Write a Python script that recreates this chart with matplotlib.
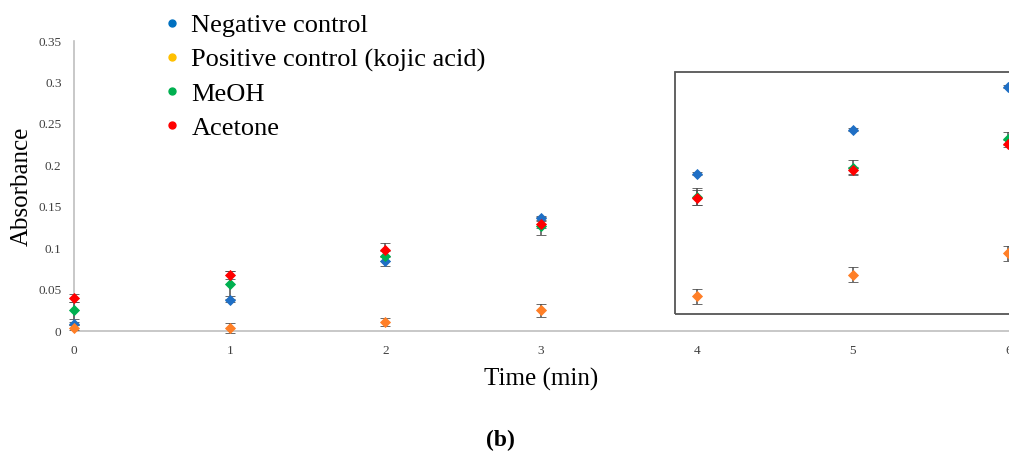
import matplotlib
matplotlib.use("Agg")
import matplotlib.pyplot as plt
from matplotlib.lines import Line2D
from matplotlib.patches import Rectangle

time_min = [0, 1, 2, 3, 4, 5, 6]
neg_control = [0.009, 0.037, 0.084, 0.136, 0.190, 0.243, 0.295]
neg_err = [0.002, 0.002, 0.005, 0.003, 0.002, 0.002, 0.002]
pos_control = [0.004, 0.004, 0.011, 0.025, 0.042, 0.068, 0.094]
pos_err = [0.003, 0.006, 0.005, 0.008, 0.009, 0.009, 0.009]
meoh = [0.025, 0.057, 0.091, 0.127, 0.162, 0.197, 0.232]
meoh_err = [0.010, 0.015, 0.006, 0.011, 0.010, 0.009, 0.008]
acetone = [0.040, 0.068, 0.098, 0.129, 0.161, 0.194, 0.226]
acetone_err = [0.005, 0.005, 0.008, 0.005, 0.009, 0.004, 0.004]

series_names = ["Negative control", "Positive control (kojic acid)", "MeOH", "Acetone"]
legend_colors = ["#0070C0", "#FFC000", "#00B050", "#FF0000"]
point_colors = ["#1F6FC5", "#FF7F27", "#00B050", "#FF0000"]

W, H = 1009, 457
fig = plt.figure(figsize=(W / 100, H / 100), dpi=100)
serif = ["Liberation Serif", "DejaVu Serif"]

x0px, x1px = 74, 1009
ytop, ybot = 41, 331
ax = fig.add_axes([x0px / W, (H - ybot) / H, (x1px - x0px) / W, (ybot - ytop) / H])
ax.set_xlim(0, (x1px - x0px) / 155.7)
ax.set_ylim(0, 0.35)

data = [(neg_control, neg_err), (pos_control, pos_err), (meoh, meoh_err), (acetone, acetone_err)]
for (vals, errs), c in zip(data, point_colors):
    ax.errorbar(time_min, vals, yerr=errs, fmt="D", color=c, markersize=4.6,
                ecolor="#505050", elinewidth=1.1, capsize=3.5, capthick=1.1,
                markeredgewidth=0.6, markeredgecolor=c, clip_on=False, zorder=3)

ax.set_xticks(time_min)
ax.set_xticklabels([str(t) for t in time_min], fontfamily=serif, fontsize=9.5)
yt = [0, 0.05, 0.1, 0.15, 0.2, 0.25, 0.3, 0.35]
ax.set_yticks(yt)
ax.set_yticklabels(["0", "0.05", "0.1", "0.15", "0.2", "0.25", "0.3", "0.35"], fontfamily=serif, fontsize=9.5)
ax.tick_params(length=0, pad=9, colors="#404040")
ax.tick_params(axis="x", pad=10)
for s in ["top", "right"]:
    ax.spines[s].set_visible(False)
for s in ["left", "bottom"]:
    ax.spines[s].set_color("#BFBFBF")
    ax.spines[s].set_linewidth(1.2)

ax.set_xlabel("Time (min)", fontfamily=serif, fontsize=18, labelpad=8)
ax.set_ylabel("Absorbance", fontfamily=serif, fontsize=18, va="center")
ax.yaxis.set_label_coords((22 - x0px) / (x1px - x0px), 0.5)

# highlight box
rect = Rectangle((675 / W, (H - 314) / H), (1015 - 675) / W, (314 - 72) / H,
                 transform=fig.transFigure, fill=False, edgecolor="#555555", linewidth=1.3)
fig.patches.append(rect)

handles = [Line2D([], [], marker="o", linestyle="none", color=c, markersize=5) for c in legend_colors]
leg = fig.legend(handles, series_names, loc="upper left", bbox_to_anchor=(132 / W, 1.022),
                 frameon=False, prop={"family": serif, "size": 19}, handletextpad=0.15,
                 labelspacing=0.4, handlelength=1.2)

fig.text(500 / W, (H - 440) / H, "(b)", ha="center", va="center", fontfamily=serif,
         fontsize=17, fontweight="bold")

fig.savefig("out.png", dpi=100)
